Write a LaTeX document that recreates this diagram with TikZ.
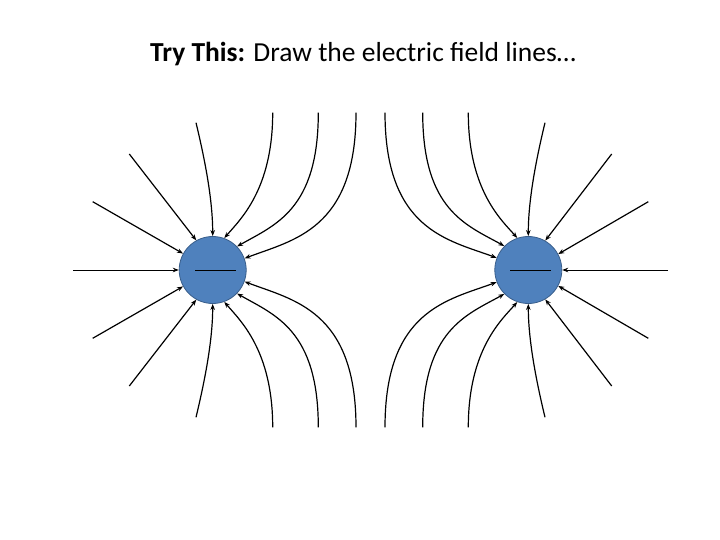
\documentclass[tikz,border=0pt]{standalone}
\usepackage{fontspec}
\setmainfont{Carlito}
\usetikzlibrary{arrows.meta}
\definecolor{chg}{RGB}{79,129,189}
\definecolor{chgb}{RGB}{56,93,138}
\tikzset{charge/.style={circle,fill=chg,draw=chgb,line width=0.8pt,minimum size=67pt,inner sep=0pt},
 fline/.style={line width=1.2pt,-{Stealth[length=6pt,width=4.5pt]}}}
\begin{document}
\begin{tikzpicture}[x=1pt,y=-1pt]
\useasboundingbox (0,0) rectangle (720,540);
\node[font=\fontsize{27.5}{32}\selectfont] (title) at (363,54) {\textbf{Try This:} Draw the electric field lines…};
\node[charge] (q1) at (212.7,270) {};
\node[charge] (q2) at (528.3,270) {};
\draw[line width=0.9pt] (195,270) -- (236,270);
\draw[line width=0.9pt] (510,270) -- (551,270);
\foreach \sx/\q/\cx in {1/q1/212.7,-1/q2/528.3}{
  \pgfmathsetmacro\h{\sx>0 ? 180 : 0}
  \draw[fline,line width=0.8pt] (\cx-\sx*139.7,270) -- (\q.\h);
  \foreach \sy in {1,-1}{
    \begin{scope}[shift={(\cx,270)},xscale=\sx,yscale=\sy]
      \pgfmathsetmacro\aa{atan2(\sy*sin(151),\sx*cos(151))}
      \draw[fline] (-120,-68.3) -- (\q.\aa);
      \pgfmathsetmacro\aa{atan2(\sy*sin(120),\sx*cos(120))}
      \draw[fline] (-83.4,-116) -- (\q.\aa);
      \pgfmathsetmacro\aa{atan2(\sy*sin(90),\sx*cos(90))}
      \draw[fline] (-16.7,-147.3) .. controls (-7.7,-110) and (0,-70) .. (\q.\aa);
      \pgfmathsetmacro\aa{atan2(\sy*sin(70),\sx*cos(70))}
      \draw[fline] (60,-157.3) .. controls (60,-80) and (27,-50) .. (\q.\aa);
      \pgfmathsetmacro\aa{atan2(\sy*sin(44),\sx*cos(44))}
      \draw[fline] (105.6,-157.3) .. controls (105.6,-60) and (62,-45) .. (\q.\aa);
      \pgfmathsetmacro\aa{atan2(\sy*sin(21),\sx*cos(21))}
      \draw[fline] (143.3,-157.3) .. controls (143.3,-40) and (80,-30) .. (\q.\aa);
    \end{scope}
  }
}
\end{tikzpicture}
\end{document}
